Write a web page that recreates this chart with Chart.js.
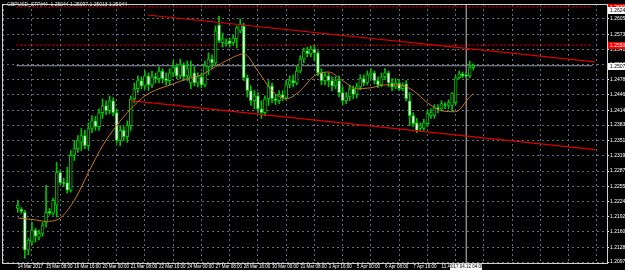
<!DOCTYPE html>
<html>
<head>
<meta charset="utf-8">
<script src="https://cdn.jsdelivr.net/npm/chart.js@4.4.1/dist/chart.umd.min.js"></script>
<style>
html,body{margin:0;padding:0;background:#000;}
#wrap{width:625px;height:270px;}
</style>
</head>
<body>
<div id="wrap"><canvas id="priceChart" width="625" height="270"></canvas></div>
<script>
/* ==========================================
        GBPUSD H4 chart data
========================================== */

const symbolTitle = "GBPUSD_STP,H4  1.25044 1.25097 1.25013 1.25044";

const timeLabels = [
"14 Mar 2017","15 Mar 08:00","16 Mar 16:00","20 Mar 00:00",
"21 Mar 08:00","22 Mar 16:00","24 Mar 00:00","27 Mar 08:00",
"28 Mar 16:00","30 Mar 00:00","31 Mar 08:00","3 Apr 16:00",
"5 Apr 00:00","6 Apr 08:00","7 Apr 16:00","11 Apr 00:00"
];
const timeLabelBars = [0,8,16,24,32,40,48,56,64,72,80,88,96,104,112,120];

const priceTicks = [
1.2097,1.2128,1.2160,1.2192,1.2224,1.2255,1.2287,1.2319,1.2351,
1.2383,1.2414,1.2446,1.2478,1.2510,1.2541,1.2573,1.2605
];

const openPrices = [
1.2209,1.2207,1.2201,1.2122,1.2139,1.2164,1.2149,1.2157,1.2180,1.2203,
1.2199,1.2216,1.2284,1.2263,1.2263,1.2247,1.2320,1.2334,1.2347,1.2361,
1.2340,1.2376,1.2392,1.2380,1.2409,1.2424,1.2413,1.2434,1.2409,1.2351,
1.2372,1.2359,1.2382,1.2438,1.2459,1.2476,1.2465,1.2486,1.2467,1.2484,
1.2480,1.2496,1.2480,1.2476,1.2492,1.2505,1.2486,1.2509,1.2486,1.2471,
1.2492,1.2471,1.2484,1.2467,1.2505,1.2521,1.2513,1.2592,1.2555,1.2553,
1.2559,1.2555,1.2563,1.2580,1.2590,1.2482,1.2455,1.2434,1.2444,1.2417,
1.2409,1.2438,1.2465,1.2438,1.2434,1.2447,1.2440,1.2467,1.2476,1.2471,
1.2496,1.2521,1.2538,1.2532,1.2542,1.2534,1.2492,1.2476,1.2486,1.2476,
1.2465,1.2476,1.2451,1.2434,1.2442,1.2459,1.2447,1.2463,1.2480,1.2471,
1.2488,1.2492,1.2476,1.2467,1.2484,1.2492,1.2471,1.2463,1.2471,1.2459,
1.2469,1.2434,1.2403,1.2388,1.2376,1.2376,1.2386,1.2403,1.2403,1.2419,
1.2417,1.2426,1.2424,1.2424,1.2430,1.2482,1.2490,1.2488,1.2486,1.2503
];

const highPrices = [
1.2226,1.2211,1.2205,1.2147,1.2180,1.2168,1.2164,1.2180,1.2257,1.2209,
1.2230,1.2305,1.2288,1.2272,1.2295,1.2330,1.2351,1.2361,1.2376,1.2372,
1.2388,1.2403,1.2401,1.2417,1.2438,1.2434,1.2444,1.2440,1.2417,1.2382,
1.2380,1.2392,1.2444,1.2471,1.2486,1.2484,1.2496,1.2492,1.2496,1.2492,
1.2505,1.2501,1.2492,1.2501,1.2517,1.2511,1.2521,1.2513,1.2517,1.2517,
1.2505,1.2492,1.2492,1.2517,1.2534,1.2530,1.2590,1.2611,1.2575,1.2563,
1.2565,1.2571,1.2590,1.2605,1.2596,1.2488,1.2465,1.2455,1.2451,1.2434,
1.2444,1.2476,1.2471,1.2447,1.2455,1.2455,1.2476,1.2486,1.2488,1.2505,
1.2528,1.2544,1.2546,1.2548,1.2550,1.2538,1.2501,1.2492,1.2492,1.2484,
1.2484,1.2486,1.2463,1.2451,1.2467,1.2465,1.2471,1.2488,1.2488,1.2496,
1.2501,1.2496,1.2484,1.2492,1.2501,1.2496,1.2480,1.2480,1.2478,1.2471,
1.2476,1.2451,1.2409,1.2397,1.2388,1.2395,1.2413,1.2417,1.2426,1.2426,
1.2434,1.2430,1.2436,1.2451,1.2486,1.2496,1.2494,1.2492,1.2517,1.2511
];

const lowPrices = [
1.2201,1.2199,1.2105,1.2112,1.2132,1.2139,1.2143,1.2151,1.2170,1.2195,
1.2195,1.2191,1.2259,1.2255,1.2241,1.2243,1.2309,1.2326,1.2330,1.2334,
1.2334,1.2367,1.2372,1.2372,1.2397,1.2405,1.2407,1.2403,1.2345,1.2340,
1.2351,1.2347,1.2372,1.2430,1.2451,1.2459,1.2459,1.2455,1.2461,1.2471,
1.2471,1.2471,1.2467,1.2467,1.2484,1.2480,1.2480,1.2476,1.2476,1.2459,
1.2465,1.2463,1.2461,1.2463,1.2488,1.2501,1.2509,1.2555,1.2546,1.2548,
1.2546,1.2550,1.2544,1.2575,1.2476,1.2442,1.2424,1.2417,1.2409,1.2397,
1.2403,1.2424,1.2430,1.2426,1.2428,1.2434,1.2436,1.2461,1.2463,1.2467,
1.2492,1.2513,1.2526,1.2526,1.2517,1.2486,1.2467,1.2467,1.2463,1.2455,
1.2459,1.2442,1.2426,1.2428,1.2434,1.2438,1.2440,1.2457,1.2465,1.2467,
1.2480,1.2469,1.2461,1.2463,1.2478,1.2463,1.2455,1.2459,1.2455,1.2455,
1.2434,1.2382,1.2380,1.2367,1.2370,1.2372,1.2380,1.2397,1.2397,1.2409,
1.2413,1.2417,1.2417,1.2413,1.2426,1.2480,1.2482,1.2482,1.2482,1.2498
];

const closePrices = [
1.2216,1.2203,1.2122,1.2143,1.2164,1.2151,1.2157,1.2174,1.2201,1.2199,
1.2226,1.2284,1.2263,1.2261,1.2247,1.2320,1.2334,1.2351,1.2361,1.2340,
1.2376,1.2392,1.2380,1.2409,1.2424,1.2413,1.2434,1.2409,1.2351,1.2372,
1.2359,1.2382,1.2438,1.2459,1.2476,1.2465,1.2486,1.2467,1.2484,1.2480,
1.2496,1.2480,1.2476,1.2492,1.2505,1.2486,1.2509,1.2484,1.2501,1.2486,
1.2471,1.2484,1.2467,1.2507,1.2521,1.2513,1.2580,1.2559,1.2563,1.2557,
1.2553,1.2565,1.2586,1.2594,1.2482,1.2455,1.2434,1.2444,1.2417,1.2409,
1.2438,1.2465,1.2438,1.2434,1.2447,1.2440,1.2467,1.2476,1.2471,1.2496,
1.2521,1.2538,1.2532,1.2542,1.2534,1.2492,1.2476,1.2486,1.2476,1.2465,
1.2476,1.2451,1.2434,1.2442,1.2459,1.2447,1.2463,1.2480,1.2471,1.2488,
1.2492,1.2476,1.2467,1.2484,1.2492,1.2471,1.2463,1.2471,1.2459,1.2465,
1.2438,1.2403,1.2386,1.2372,1.2382,1.2388,1.2407,1.2409,1.2419,1.2417,
1.2428,1.2424,1.2430,1.2449,1.2482,1.2490,1.2486,1.2486,1.2503,1.2507
];

// moving average
const maBars = [0,4,8,12,16,20,24,28,32,36,40,44,48,52,56,60,64,68,72,76,80,84,88,92,96,100,104,108,112,116,120,124,128,129];
const maValues = [
1.2189,1.2186,1.2182,1.2189,1.2226,1.2284,1.2340,1.2382,1.2417,1.2444,
1.2459,1.2469,1.2480,1.2488,1.2505,1.2521,1.2532,1.2496,1.2455,1.2438,
1.2455,1.2486,1.2494,1.2476,1.2459,1.2461,1.2467,1.2467,1.2455,1.2430,
1.2413,1.2411,1.2442,1.2449
];

// channel lines (bar, price)
const upperChannel = [[36.8,1.2613],[163.5,1.2515]];
const lowerChannel = [[31.9,1.2434],[163.5,1.2332]];

// horizontal levels
const redLevels = [1.2630,1.2550];
const bidPrice = 1.2507;
const markerBar = 127;
const markerTime = "2017.04.12 04:00";

const X_MIN = -0.4, X_MAX = 162.8;
const Y_MIN = 1.2095, Y_MAX = 1.2636;


document.addEventListener("DOMContentLoaded",()=>{

const gridColor = "#5f6d7c";
const candleGreen = "#00c400";
const smallFont = '"Liberation Sans", sans-serif';

const wickData = highPrices.map((h,i)=>({x:i,y:[lowPrices[i],h]}));
const bodyData = openPrices.map((o,i)=>({x:i,y:[o,closePrices[i]]}));
const bodyFill = openPrices.map((o,i)=> closePrices[i] >= o ? "#000000" : "#ffffff");

const hLine = (p)=>[{x:X_MIN,y:p},{x:X_MAX,y:p}];

const gridBars = [];
for(let b=0;b<=160;b+=8) gridBars.push(b);


/* ===============================
        Frame and labels plugin
================================ */

const mt4Overlay = {
  id:"mt4Overlay",
  beforeDraw(chart){
    const ctx = chart.ctx;
    ctx.save();
    ctx.fillStyle = "#000";
    ctx.fillRect(0,0,chart.width,chart.height);
    ctx.restore();
  },
  afterDraw(chart){
    const ctx = chart.ctx;
    const a = chart.chartArea;
    const ys = chart.scales.y;
    const xs = chart.scales.x;
    ctx.save();

    ctx.strokeStyle = "#d0d0d0";
    ctx.lineWidth = 1;
    ctx.strokeRect(a.left+0.5,a.top+0.5,a.right-a.left,a.bottom-a.top);

    ctx.font = "5px " + smallFont;
    ctx.textBaseline = "middle";

    ctx.fillStyle = "#e0e0e0";
    ctx.fillText(symbolTitle,7,5);

    const box = (price,bg,fg)=>{
      const y = Math.round(ys.getPixelForValue(price));
      ctx.fillStyle = bg;
      ctx.fillRect(a.right+1,y-3,18,7);
      ctx.fillStyle = fg;
      ctx.fillText(price.toFixed(4),a.right+3,y+0.5);
    };
    box(redLevels[0],"#ff0000","#ffffff");
    box(1.2624,"#ffffff","#000000");
    box(redLevels[1],"#ff0000","#ffffff");
    box(bidPrice,"#ffffff","#000000");

    const mx = Math.round(xs.getPixelForValue(markerBar));
    ctx.font = "4.5px " + smallFont;
    ctx.fillStyle = "#ffffff";
    ctx.fillRect(mx-16,a.bottom+1,32,6);
    ctx.fillStyle = "#000000";
    ctx.textAlign = "center";
    ctx.fillText(markerTime,mx,a.bottom+4);

    ctx.restore();
  }
};


/* ===============================
        Price chart
================================ */

new Chart(
document.getElementById("priceChart"),
{
  type:"bar",
  data:{
    datasets:[
      {
        type:"line",
        data:maBars.map((b,i)=>({x:b,y:maValues[i]})),
        borderColor:"#c8741c",
        borderWidth:1,
        pointRadius:0,
        cubicInterpolationMode:"monotone",
        order:0
      },
      {
        type:"line",
        data:upperChannel.map(p=>({x:p[0],y:p[1]})),
        borderColor:"#e00000",
        borderWidth:1.2,
        pointRadius:0,
        order:0
      },
      {
        type:"line",
        data:lowerChannel.map(p=>({x:p[0],y:p[1]})),
        borderColor:"#e00000",
        borderWidth:1.2,
        pointRadius:0,
        order:0
      },
      {
        type:"line",
        data:hLine(redLevels[0]),
        borderColor:"#ff0000",
        borderWidth:1,
        borderDash:[2,2],
        pointRadius:0,
        order:3
      },
      {
        type:"line",
        data:hLine(redLevels[1]),
        borderColor:"#ff0000",
        borderWidth:1,
        borderDash:[2,2],
        pointRadius:0,
        order:3
      },
      {
        type:"line",
        data:hLine(bidPrice),
        borderColor:"#8a96a4",
        borderWidth:1,
        pointRadius:0,
        order:3
      },
      {
        type:"line",
        data:[{x:markerBar,y:Y_MIN},{x:markerBar,y:Y_MAX}],
        borderColor:"#c8c8c8",
        borderWidth:1,
        pointRadius:0,
        order:3
      },
      {
        data:wickData,
        backgroundColor:candleGreen,
        barThickness:1,
        grouped:false,
        order:2
      },
      {
        data:bodyData,
        backgroundColor:bodyFill,
        borderColor:candleGreen,
        borderWidth:1,
        borderSkipped:false,
        barThickness:3,
        minBarLength:1,
        grouped:false,
        order:1
      }
    ]
  },
  options:{
    responsive:false,
    animation:false,
    devicePixelRatio:1,
    layout:{padding:{left:2,top:3,right:0,bottom:0}},
    plugins:{
      legend:{display:false},
      tooltip:{enabled:false}
    },
    scales:{
      x:{
        type:"linear",
        min:X_MIN,
        max:X_MAX,
        afterBuildTicks:(s)=>{ s.ticks = gridBars.map(v=>({value:v})); },
        afterFit:(s)=>{ s.height = 7; },
        ticks:{
          color:"#ffffff",
          font:{size:4.5,family:smallFont},
          padding:1,
          align:"start",
          maxRotation:0,
          autoSkip:false,
          callback:(v)=>{
            const k = timeLabelBars.indexOf(v);
            return k >= 0 ? timeLabels[k] : "";
          }
        },
        grid:{color:gridColor,drawTicks:false},
        border:{display:true,color:"#ffffff",dash:[2,3]}
      },
      y:{
        type:"linear",
        position:"right",
        min:Y_MIN,
        max:Y_MAX,
        afterBuildTicks:(s)=>{ s.ticks = priceTicks.map(v=>({value:v})); },
        afterFit:(s)=>{ s.width = 18; },
        ticks:{
          color:"#ffffff",
          font:{size:5,family:smallFont},
          padding:1,
          callback:(v)=>Number(v).toFixed(4)
        },
        grid:{color:gridColor,tickLength:2,tickColor:"#ffffff"},
        border:{display:true,color:"#ffffff",dash:[2,3]}
      }
    }
  },
  plugins:[mt4Overlay]
}
);

});
</script>
</body>
</html>
